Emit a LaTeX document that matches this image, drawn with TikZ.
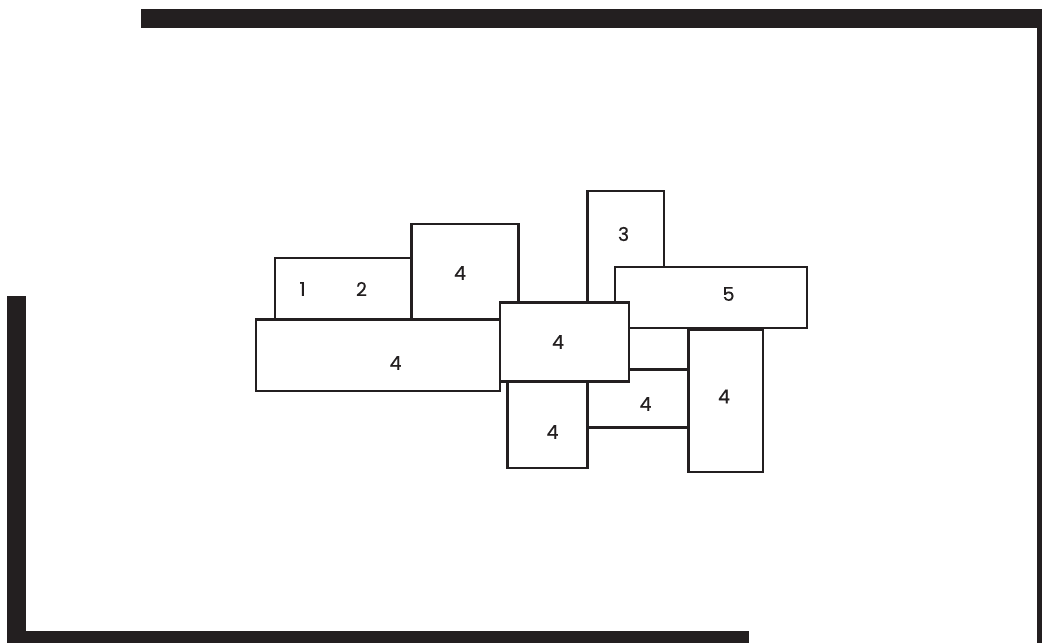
\documentclass[tikz,border=0pt]{standalone}
\usepackage{fontspec}
\setmainfont{Poppins}
\newfontfamily\numfont[FakeBold=0.4]{Poppins}
\usepackage{xcolor}
\definecolor{wallink}{HTML}{231F20}

\begin{document}
\begin{tikzpicture}[
  x=1pt, y=-1pt,
  box/.style={draw=wallink, fill=white, line width=2.3pt},
  wall/.style={fill=wallink},
  num/.style={font=\numfont\fontsize{19}{21}\selectfont, text=wallink, inner sep=0pt}
]
\useasboundingbox (0,0) rectangle (1042,643);
% walls
\fill[wall] (141,9) rectangle (1042,28);
\fill[wall] (1037,9) rectangle (1042,643);
\fill[wall] (7,296) rectangle (26,643);
\fill[wall] (7,631) rectangle (749,643);
% pieces, back to front
\draw[box] (275,258) rectangle (411.5,319.5);
\draw[box] (411.5,224) rectangle (518.5,319.5);
\draw[box] (256,319.5) rectangle (500,391);
\draw[box] (587.5,191) rectangle (664,305);
\draw[box] (615,267) rectangle (807,328);
\draw[box] (688.5,329.5) rectangle (763,472);
\draw[box] (587.5,369.5) rectangle (688.5,427.5);
\draw[box] (507.5,381.5) rectangle (587.5,468);
\draw[box] (500,302.5) rectangle (629,381.5);
% numbers
\node[num] (one) at (302.5,289) {1};
\node[num] (two) at (361.5,289) {2};
\node[num] (topfour) at (460,273) {4};
\node[num] (bigfour) at (395.5,363) {4};
\node[num] (three) at (623.5,234) {3};
\node[num] (five) at (728.5,294) {5};
\node[num] (midfour) at (558,342) {4};
\node[num] (lowfour) at (552.5,432) {4};
\node[num] (smallfour) at (645.5,404) {4};
\node[num] (tallfour) at (724,396.5) {4};
\end{tikzpicture}
\end{document}
